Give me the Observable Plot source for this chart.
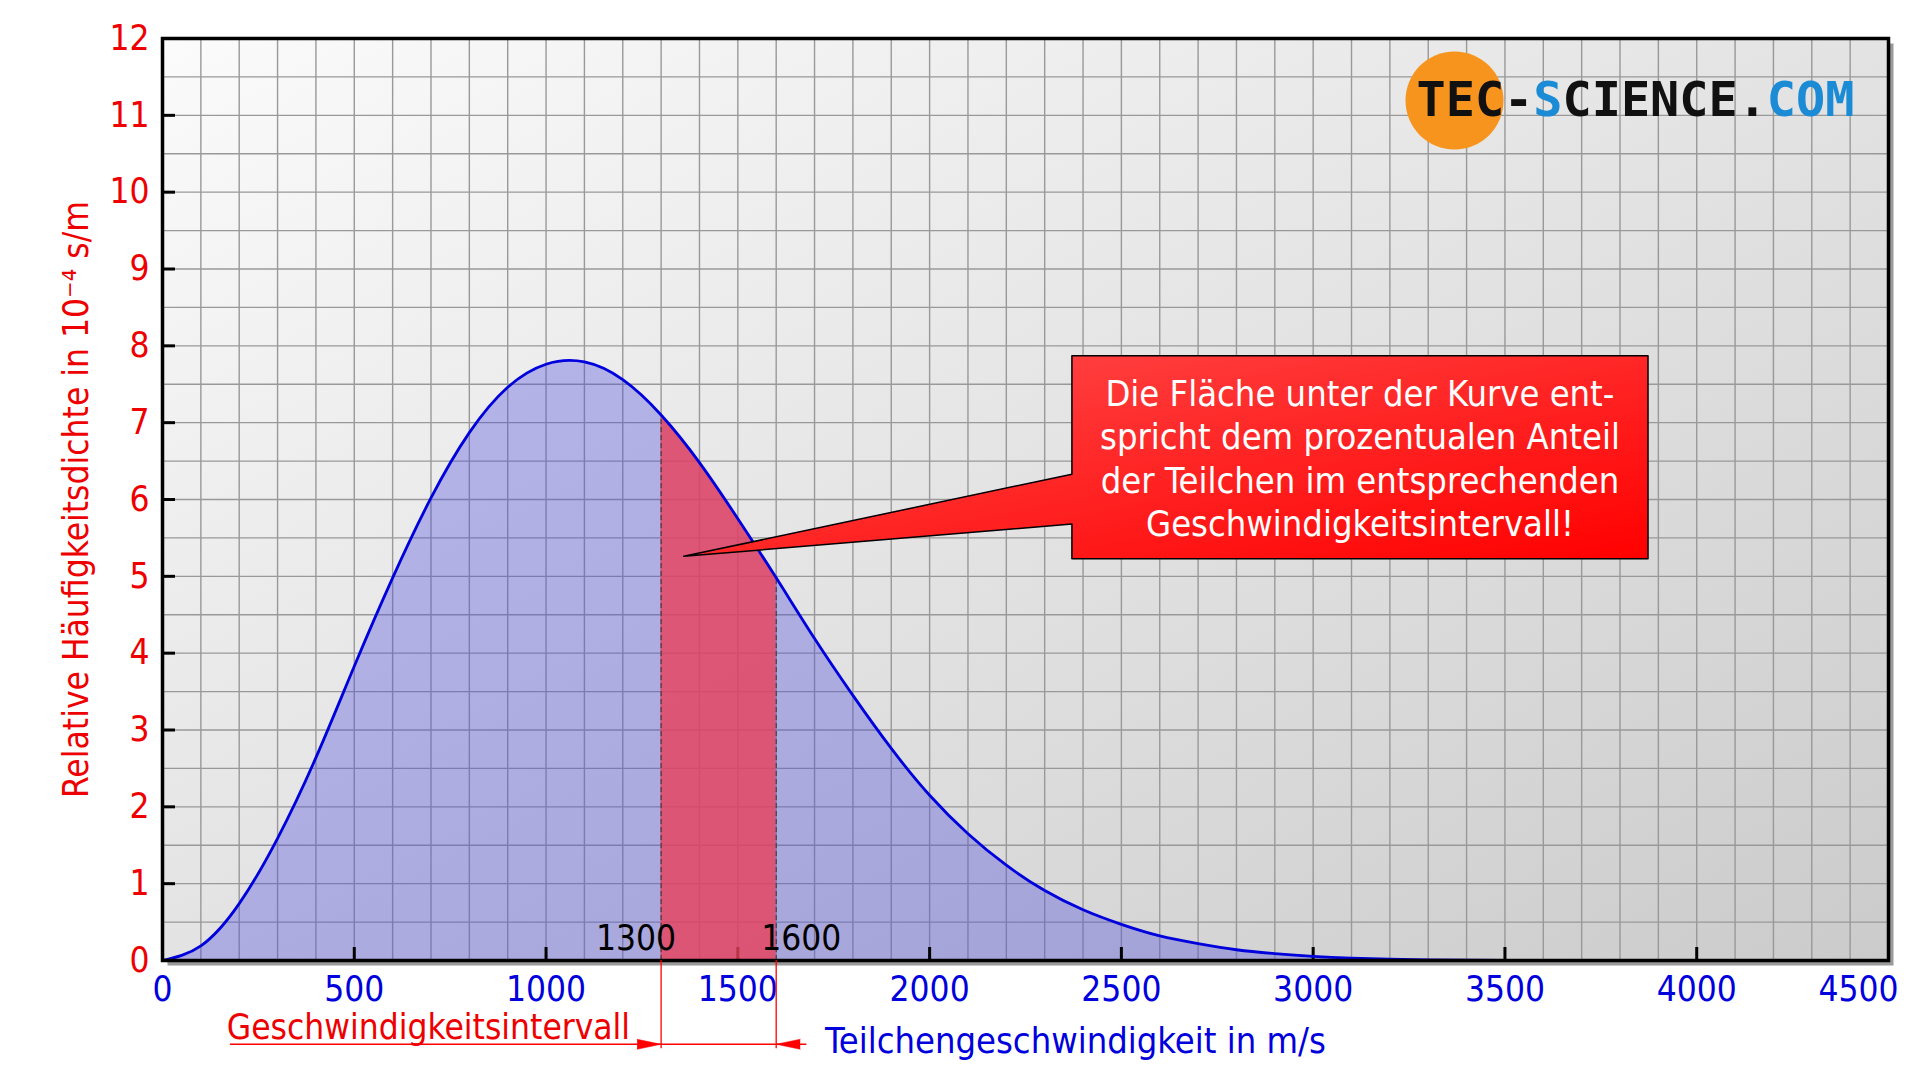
<!DOCTYPE html>
<html>
<head>
<meta charset="utf-8">
<script src="https://cdn.jsdelivr.net/npm/d3@7"></script>
<script src="https://cdn.jsdelivr.net/npm/@observablehq/plot@0.6"></script>
<style>
  html, body { margin: 0; padding: 0; background: #ffffff; }
  #chart svg { display: block; }
</style>
</head>
<body>
<svg width="0" height="0" style="position:absolute">
  <defs>
    <linearGradient id="bgGrad" x1="0" y1="0" x2="1" y2="1">
      <stop offset="0" stop-color="#fbfbfb"/>
      <stop offset="1" stop-color="#cbcbcb"/>
    </linearGradient>
    <linearGradient id="redGrad" x1="0" y1="0" x2="1" y2="1">
      <stop offset="0" stop-color="#ff4d4d"/>
      <stop offset="1" stop-color="#ff0000"/>
    </linearGradient>
  </defs>
</svg>
<div id="chart"></div>
<script>
// ---- data ----
const speeds  = [0, 100, 200, 300, 400, 500, 600, 700, 800, 900, 1000, 1100, 1200, 1300, 1400, 1500, 1600, 1700, 1800, 1900, 2000, 2100, 2200, 2300, 2400, 2500, 2600, 2700, 2800, 2900, 3000, 3100, 3200, 3300, 3400, 3500];
const density = [0, 0.19, 0.74, 1.59, 2.64, 3.83, 4.98, 6.02, 6.87, 7.46, 7.76, 7.79, 7.56, 7.10, 6.48, 5.75, 4.98, 4.19, 3.45, 2.76, 2.15, 1.65, 1.24, 0.91, 0.66, 0.47, 0.32, 0.22, 0.14, 0.09, 0.055, 0.032, 0.018, 0.009, 0.004, 0.002];
const intervalBounds = [1300, 1600];
const xTicks = [0, 500, 1000, 1500, 2000, 2500, 3000, 3500, 4000, 4500];
const yTicks = [0, 1, 2, 3, 4, 5, 6, 7, 8, 9, 10, 11, 12];
const xGridStep = 100;
const yGridStep = 0.5;

const yTitle = "Relative Häufigkeitsdichte in 10\u207B\u2074 s/m";
const xTitle = "Teilchengeschwindigkeit in m/s";
const intervalTitle = "Geschwindigkeitsintervall";
const calloutText = "Die Fläche unter der Kurve ent-\nspricht dem prozentualen Anteil\nder Teilchen im entsprechenden\nGeschwindigkeitsintervall!";
const logoParts = ["TEC-", "S", "CIENCE.", "COM"];

// annotation geometry (data units)
const callout = { x0: 2371, x1: 3873, yTop: 7.87, yBot: 5.23, ptrHigh: 6.33, ptrLow: 5.68, tipX: 1359, tipY: 5.26 };
const arrowY = -1.09, bracketY = -1.15, arrowFrom = 177, arrowTo = 1680;

// ---- build ----
const curve = speeds.map((v, i) => ({ v, f: density[i] }));
const interval = curve.filter(d => d.v >= intervalBounds[0] && d.v <= intervalBounds[1]);
const boundPts = intervalBounds.map(b => curve.find(d => d.v === b));
const xGrid = d3.range(0, 4500 + 1e-9, xGridStep);
const yGrid = d3.range(0, 12 + 1e-9, yGridStep);
const calloutShape = [
  { x: callout.x0, y: callout.yTop }, { x: callout.x1, y: callout.yTop },
  { x: callout.x1, y: callout.yBot }, { x: callout.x0, y: callout.yBot },
  { x: callout.x0, y: callout.ptrLow }, { x: callout.tipX, y: callout.tipY },
  { x: callout.x0, y: callout.ptrHigh }, { x: callout.x0, y: callout.yTop }
];

const FONT = "'DejaVu Sans Condensed', 'DejaVu Sans', sans-serif";
const RED = "#ee0000", BLUE = "#0000dd";
const CURVE = "natural";
const logoFs = 48.5, logoW = 0.602 * logoFs, logoX = -472;
const logoOffsets = [0, 4, 5, 12];
const logoColors = ["#111111", "#1b8bd6", "#111111", "#1b8bd6"];
const fmt = d => String(d);

const chart = Plot.plot({
  width: 1920,
  height: 1080,
  marginLeft: 162,
  marginRight: 32,
  marginTop: 38,
  marginBottom: 120,
  x: { domain: [0, 4500] },
  y: { domain: [0, 12] },
  style: { fontFamily: FONT, background: "#ffffff", overflow: "visible" },
  marks: [
    Plot.frame({ fill: "#9a9a9a", dx: 5, dy: 5 }),
    Plot.frame({ fill: "url(#bgGrad)" }),
    Plot.ruleX(xGrid, { stroke: "#999999", strokeWidth: 1.4 }),
    Plot.ruleY(yGrid, { stroke: "#999999", strokeWidth: 1.4 }),
    Plot.areaY(curve, { x: "v", y: "f", fill: "#4848e0", fillOpacity: 0.35, curve: CURVE }),
    Plot.axisX(xTicks, { anchor: "bottom", tickSize: 13, dy: -13, strokeWidth: 3, stroke: "#000", fill: "none", tickFormat: () => "", label: null }),
    Plot.areaY(interval, { x: "v", y: "f", fill: "#e8405a", fillOpacity: 0.8, curve: CURVE }),
    Plot.ruleX(boundPts, { x: "v", y1: 0, y2: "f", stroke: "#333333", strokeWidth: 1, strokeDasharray: "5,3" }),
    Plot.line(curve, { x: "v", y: "f", stroke: BLUE, strokeWidth: 2.8, curve: CURVE }),
    Plot.axisY(yTicks, { anchor: "left", tickSize: 13, dx: 13, strokeWidth: 3, stroke: "#000", fill: "none", tickFormat: () => "", label: null }),
    Plot.axisY(yTicks, { anchor: "left", tickSize: 0, tickPadding: 13, fill: RED, fontSize: 35, tickFormat: fmt, label: null }),
    Plot.axisX(xTicks.filter(t => t < 4500), { anchor: "bottom", tickSize: 0, tickPadding: 16, fill: BLUE, fontSize: 35, tickFormat: fmt, label: null }),
    Plot.axisX([4500], { anchor: "bottom", tickSize: 0, tickPadding: 16, dx: -30, fill: BLUE, fontSize: 35, tickFormat: fmt, label: null }),
    Plot.frame({ stroke: "#000000", strokeWidth: 3.5 }),
    // interval labels
    Plot.text([intervalBounds[0]], { x: d => d, frameAnchor: "bottom", text: fmt, textAnchor: "end", lineAnchor: "bottom", dx: 15, dy: -11, fontSize: 35, fill: "#000" }),
    Plot.text([intervalBounds[1]], { x: d => d, frameAnchor: "bottom", text: fmt, textAnchor: "start", lineAnchor: "bottom", dx: -15, dy: -11, fontSize: 35, fill: "#000" }),
    // interval bracket below the axis
    Plot.ruleX(intervalBounds, { x: d => d, y1: 0, y2: bracketY, stroke: "#ff0000", strokeWidth: 1.3 }),
    Plot.ruleY([arrowY], { x1: arrowFrom, x2: arrowTo, stroke: "#ff0000", strokeWidth: 1.5 }),
    Plot.vector([{ x: intervalBounds[0], r: 90 }, { x: intervalBounds[1], r: -90 }], { x: "x", y: () => arrowY, rotate: "r", length: 24, shape: "spike", r: 5, anchor: "end", fill: "#ff0000", fillOpacity: 1, stroke: "#ff0000", strokeWidth: 0.5 }),
    Plot.text([intervalTitle], { x: () => intervalBounds[0], frameAnchor: "bottom", textAnchor: "end", lineAnchor: "bottom", dx: -31, dy: 78, fontSize: 35, fill: RED }),
    // axis titles
    Plot.text([xTitle], { frameAnchor: "bottom", textAnchor: "middle", lineAnchor: "bottom", dx: 50, dy: 92, fontSize: 36, fill: BLUE }),
    Plot.text([yTitle], { frameAnchor: "left", rotate: -90, textAnchor: "middle", lineAnchor: "middle", dx: -86, fontSize: 35, fill: RED }),
    // logo
    Plot.dot([0], { frameAnchor: "top-right", dx: -434, dy: 62, r: 49, fill: "#f7941d", stroke: "none" }),
    ...logoParts.map((p, i) => Plot.text([p], { frameAnchor: "top-right", dx: logoX + logoOffsets[i] * logoW, dy: 62, textAnchor: "start", lineAnchor: "middle", fontFamily: "'DejaVu Sans Mono', monospace", fontWeight: "bold", fontSize: logoFs, fill: logoColors[i] })),
    // callout
    Plot.line(calloutShape, { x: "x", y: "y", fill: "url(#redGrad)", stroke: "#000000", strokeWidth: 1.5, curve: "linear" }),
    Plot.text([calloutText], { x: () => (callout.x0 + callout.x1) / 2, y: () => (callout.yTop + callout.yBot) / 2, textAnchor: "middle", lineAnchor: "middle", lineHeight: 1.2, fontSize: 36, fill: "#ffffff" })
  ]
});
document.getElementById("chart").appendChild(chart);
</script>
</body>
</html>
